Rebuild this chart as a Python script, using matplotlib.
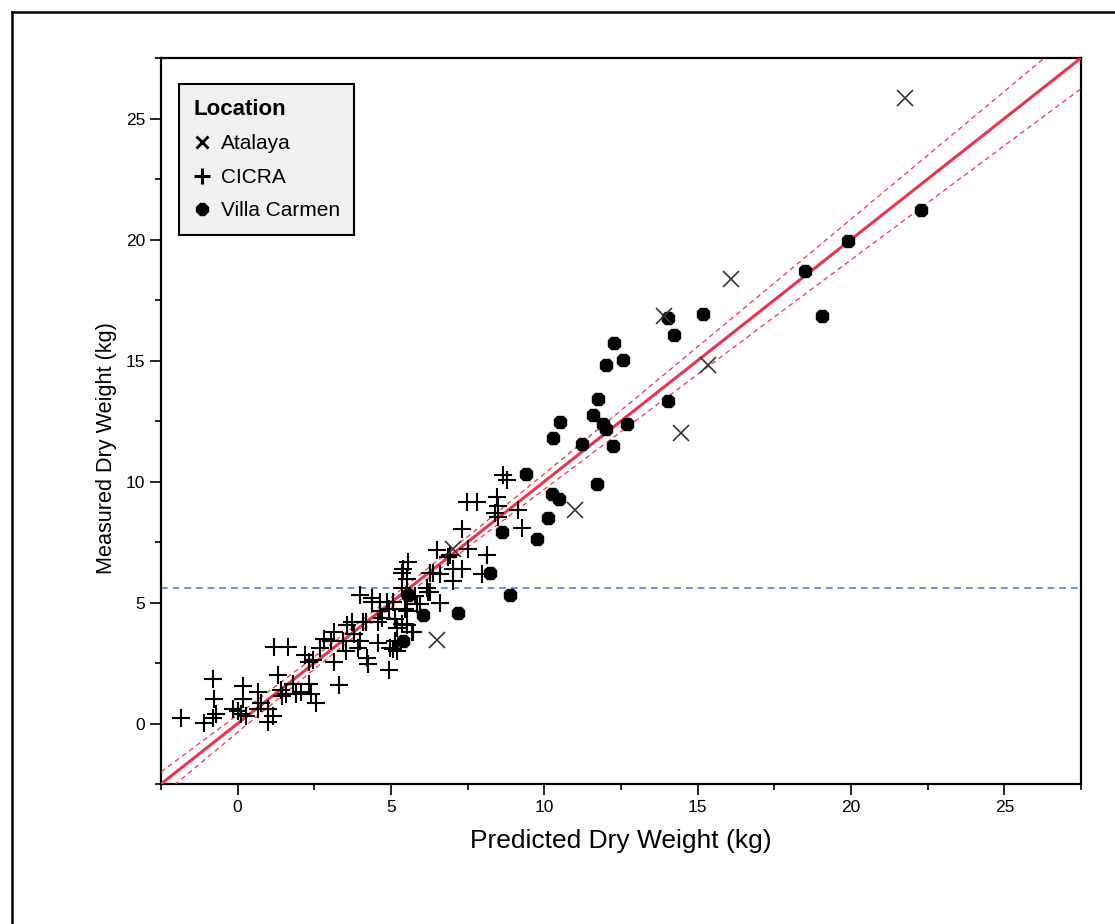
import matplotlib.pyplot as plt
from matplotlib.lines import Line2D
from matplotlib.ticker import MultipleLocator
import numpy as np

plt.rcParams['font.family'] = ['Liberation Sans', 'DejaVu Sans']

# Atalaya (x markers): predicted, measured
atalaya_x = [21.75, 16.08, 13.90, 15.33, 14.45, 11.00, 6.51, 7.03]
atalaya_y = [25.83, 18.35, 16.86, 14.83, 12.02, 8.84, 3.47, 7.23]

# CICRA (+ markers)
cicra_x = [-1.86, -0.81, -0.78, -0.72, -1.11, -0.81, -0.16, 0.00, 0.16, 0.16, 0.10, 0.26,
           0.65, 0.75, 0.65, 0.98, 0.98, 1.14, 1.30, 1.40, 1.56, 1.46, 1.79, 1.89, 2.05,
           2.31, 2.38, 2.54, 1.17, 1.63, 2.21, 2.31, 2.47,
           2.80, 3.13, 3.03, 2.70, 3.29, 3.13, 3.45, 3.52, 3.58, 3.74, 3.78, 4.00, 3.91,
           4.10, 4.00, 4.23, 4.26, 4.39, 4.56, 4.59, 4.65, 4.65, 4.88, 4.92, 4.98, 4.92,
           5.14, 5.21, 5.14, 5.08, 5.37, 5.40, 5.53, 5.57, 5.47, 5.53, 5.73, 5.96, 6.18,
           6.51, 6.38, 6.61, 6.93, 7.03, 7.03,
           8.66, 8.79, 7.49, 7.81, 8.46, 8.50, 8.40, 8.50, 9.15, 9.28, 7.32, 7.52, 8.14,
           6.87, 7.32, 6.61, 7.98, 6.28, 5.37, 6.22, 5.79, 4.39, 5.53, 5.37, 4.72, 4.17,
           5.21, 5.86, 6.28, 5.08, 5.70]
cicra_y = [0.21, 1.86, 1.03, 0.41, 0.04, 0.21, 0.58, 0.50, 1.53, 1.03, 0.41, 0.29,
           1.32, 0.83, 0.58, 0.62, 0.08, 0.29, 2.02, 1.40, 1.24, 1.12, 1.65, 1.20, 1.32,
           1.65, 1.24, 0.83, 3.18, 3.18, 2.85, 2.56, 2.64,
           3.51, 3.80, 3.39, 3.10, 1.61, 2.56, 3.39, 2.98, 4.09, 4.21, 3.68, 3.39, 3.10,
           4.21, 5.33, 2.69, 2.48, 5.04, 4.21, 3.31, 5.04, 4.63, 5.04, 4.75, 3.10, 2.23,
           4.30, 3.93, 3.39, 5.04, 5.58, 6.40, 5.99, 6.69, 4.75, 4.09, 3.80, 4.92, 5.58,
           7.19, 6.20, 4.96, 6.98, 5.87, 6.40,
           10.29, 10.08, 9.17, 9.17, 9.38, 8.97, 8.68, 8.55, 8.84, 8.06, 8.02, 7.23, 6.98,
           6.90, 6.40, 6.16, 6.16, 6.20, 6.20, 5.45, 5.25, 5.17, 4.63, 4.13, 4.34, 4.21,
           2.98, 4.92, 5.45, 3.06, 3.80]

# Villa Carmen (filled dots)
villa_x = [15.17, 14.03, 14.23, 12.27, 12.57, 12.01, 11.75, 14.03, 10.51, 11.59, 11.91,
           12.01, 12.70, 10.29, 11.23, 12.24, 9.41, 11.72, 10.25, 10.48, 10.12, 8.63, 9.77,
           18.49, 19.89, 22.27, 19.04, 8.24, 8.89, 7.19, 6.05, 5.40, 5.57]
villa_y = [16.94, 16.74, 16.07, 15.74, 15.04, 14.83, 13.43, 13.31, 12.48, 12.73, 12.36,
           12.15, 12.36, 11.78, 11.57, 11.45, 10.33, 9.88, 9.50, 9.26, 8.51, 7.93, 7.64,
           18.68, 19.92, 21.24, 16.82, 6.24, 5.33, 4.55, 4.50, 3.43, 5.30]

# fit line and confidence band
fit_x = [-2.5, 27.5]
fit_y = [-2.5, 27.5]
ci_x = [-2.5, 0, 2.5, 5, 7.5, 10, 12.5, 15, 17.5, 20, 22.5, 25, 27.5]
ci_hw = [0.50, 0.36, 0.25, 0.20, 0.22, 0.32, 0.44, 0.57, 0.70, 0.84, 0.98, 1.12, 1.27]
mean_measured = 5.58

fig = plt.figure(figsize=(11.15, 9.24), dpi=100)
ax = fig.add_axes([0.1444, 0.1515, 0.8251, 0.7857])

red = '#e8354f'
ax.plot(fit_x, fit_y, color=red, lw=2.2, zorder=3)
ci_x = np.array(ci_x)
ci_hw = np.array(ci_hw)
ax.plot(ci_x, ci_x + ci_hw, color=red, lw=0.9, ls=(0, (4, 3)), zorder=3)
ax.plot(ci_x, ci_x - ci_hw, color=red, lw=0.9, ls=(0, (4, 3)), zorder=3)
ax.axhline(mean_measured, color='#4a80e8', lw=1.2, ls=(0, (4, 3)), zorder=2)

ax.plot(cicra_x, cicra_y, '+', ms=12.5, mew=1.5, color='black', zorder=4)
ax.plot(villa_x, villa_y, '8', ms=10, color='black', zorder=4)
ax.plot(atalaya_x, atalaya_y, 'x', ms=12, mew=1.2, color='#333333', zorder=4)

ax.set_xlim(-2.5, 27.5)
ax.set_ylim(-2.5, 27.5)
ax.xaxis.set_major_locator(MultipleLocator(5))
ax.xaxis.set_minor_locator(MultipleLocator(2.5))
ax.yaxis.set_major_locator(MultipleLocator(5))
ax.yaxis.set_minor_locator(MultipleLocator(2.5))
ax.tick_params(which='major', direction='out', length=8, width=1.2, labelsize=12.5)
ax.tick_params(which='minor', direction='out', length=4, width=1.2)
for s in ax.spines.values():
    s.set_linewidth(1.6)

ax.set_xlabel('Predicted Dry Weight (kg)', fontsize=19, labelpad=10)
ax.set_ylabel('Measured Dry Weight (kg)', fontsize=15.6)
ax.yaxis.set_label_coords(-0.048, 0.463)

handles = [
    Line2D([], [], marker='x', ls='none', ms=9, mew=2, color='black'),
    Line2D([], [], marker='+', ls='none', ms=11, mew=2.2, color='black'),
    Line2D([], [], marker='8', ls='none', ms=9, color='black'),
]
leg = ax.legend(handles, ['Atalaya', 'CICRA', 'Villa Carmen'], title='Location',
                loc='upper left', bbox_to_anchor=(0.0196, 0.964), borderaxespad=0,
                fontsize=15, title_fontproperties={'weight': 'bold', 'size': 16},
                alignment='left', handlelength=0.8, handletextpad=0.5,
                fancybox=False, framealpha=1, borderpad=0.7, labelspacing=0.7)
leg.get_frame().set_facecolor('#f0f0f0')
leg.get_frame().set_edgecolor('black')
leg.get_frame().set_linewidth(1.5)

# outer frame
fig.add_artist(Line2D([12 / 1115, 12 / 1115], [0, 1 - 12 / 924], color='black', lw=1.8))
fig.add_artist(Line2D([12 / 1115, 1], [1 - 12 / 924, 1 - 12 / 924], color='black', lw=1.8))

fig.savefig('out.png', dpi=100)
